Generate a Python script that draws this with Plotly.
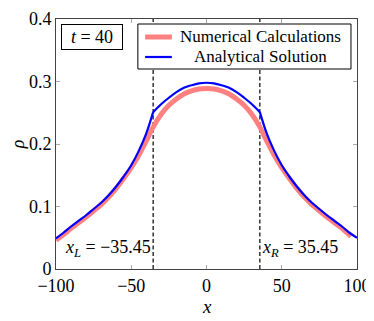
import plotly.graph_objects as go

# analytical solution
x_ana = [-100, -95, -90, -85, -80, -75, -70, -65, -60, -55, -50, -45, -40, -35.45,
         -30, -25, -20, -15, -10, -5, 0, 5, 10, 15, 20, 25, 30,
         35.45, 40, 45, 50, 55, 60, 65, 70, 75, 80, 85, 90, 95, 100]
rho_ana = [0.049, 0.058, 0.068, 0.077, 0.086, 0.096, 0.106, 0.118, 0.132, 0.148, 0.166, 0.189, 0.217, 0.251,
           0.264, 0.274, 0.283, 0.290, 0.294, 0.297, 0.298, 0.297, 0.294, 0.290, 0.283, 0.274, 0.264,
           0.251, 0.217, 0.189, 0.166, 0.148, 0.132, 0.118, 0.106, 0.096, 0.086, 0.077, 0.068, 0.058, 0.050]

# numerical calculations
x_num = [-100, -95, -90, -85, -80, -75, -70, -65, -60, -55, -50, -45, -40, -35, -30, -25, -20, -15, -10, -5, 0,
         5, 10, 15, 20, 25, 30, 35, 40, 45, 50, 55, 60, 65, 70, 75, 80, 85, 90, 96]
rho_num = [0.046, 0.055, 0.065, 0.074, 0.083, 0.093, 0.103, 0.115, 0.129, 0.145, 0.162, 0.182, 0.205, 0.229,
           0.248, 0.262, 0.272, 0.280, 0.285, 0.288, 0.289,
           0.288, 0.285, 0.280, 0.272, 0.262, 0.248, 0.229, 0.205, 0.182, 0.162, 0.145, 0.129, 0.115, 0.103,
           0.093, 0.083, 0.074, 0.065, 0.052]

x_L, x_R = -35.45, 35.45
t_val = 40

names = ['Numerical Calculations', 'Analytical Solution']
colors = ['rgb(255,128,128)', 'rgb(0,0,255)']
widths = [5, 2.2]

FONT = "Liberation Serif, serif"

fig = go.Figure()

# dashed interface lines
for xv in [x_L, x_R]:
    fig.add_trace(go.Scatter(x=[xv, xv], y=[0, 0.4], mode='lines',
                             line=dict(color='black', width=1.2, dash='4px,2.5px'),
                             showlegend=False, hoverinfo='skip'))

fig.add_trace(go.Scatter(x=x_num, y=rho_num, mode='lines', name=names[0], showlegend=False,
                         line=dict(color=colors[0], width=widths[0], shape='spline')))

# analytical solution: smooth pieces, with a kink at x_L and x_R
iL, iR = x_ana.index(x_L), x_ana.index(x_R)
for a, b in [(0, iL + 1), (iL, iR + 1), (iR, len(x_ana))]:
    fig.add_trace(go.Scatter(x=x_ana[a:b], y=rho_ana[a:b], mode='lines', name=names[1], showlegend=False,
                             line=dict(color=colors[1], width=widths[1], shape='spline')))

# legend box drawn by hand (pgfplots style: centred entries)
fig.add_shape(type='rect', xref='paper', yref='paper', x0=0.272, x1=0.980, y0=0.80, y1=0.98,
              line=dict(color='black', width=1), fillcolor='white', layer='above')
for i, (nm, c, w) in enumerate(zip(names, colors, widths)):
    yy = 0.928 - 0.08 * i
    fig.add_shape(type='line', xref='paper', yref='paper', x0=0.296, x1=0.385, y0=yy, y1=yy,
                  line=dict(color=c, width=w), layer='above')
    fig.add_annotation(x=0.679, y=yy, xref='paper', yref='paper', xanchor='center', yanchor='middle',
                       text=nm, showarrow=False, font=dict(family=FONT, size=17, color='black'))

# labels
fig.add_annotation(x=0.017, y=0.98, xref='paper', yref='paper', xanchor='left', yanchor='top',
                   text=f'<i>t</i> = {t_val}', showarrow=False, width=56, height=20,
                   font=dict(family=FONT, size=18, color='black'),
                   bordercolor='black', borderwidth=1, borderpad=2, bgcolor='white')
fig.add_annotation(x=x_L, y=0.012, xanchor='right', yanchor='bottom',
                   text=f'<i>x<sub>L</sub></i> = \u2212{abs(x_L):.2f}', showarrow=False,
                   font=dict(family=FONT, size=18, color='black'))
fig.add_annotation(x=x_R, y=0.012, xanchor='left', yanchor='bottom',
                   text=f'<i>x<sub>R</sub></i> = {x_R:.2f}', showarrow=False,
                   font=dict(family=FONT, size=18, color='black'))
fig.add_annotation(x=0.5, y=-0.148, xref='paper', yref='paper', xanchor='center', yanchor='middle',
                   text='<i>x</i>', showarrow=False, font=dict(family=FONT, size=19, color='black'))

# the page body adds an 8px offset, so the figure is 8px smaller and margins shifted
fig.update_layout(
    width=366, height=313,
    margin=dict(l=48, r=17, t=11, b=52),
    plot_bgcolor='white', paper_bgcolor='white',
    font=dict(family=FONT, size=17, color='black'),
    showlegend=False,
)
fig.update_xaxes(range=[-100, 100], tickvals=[-100, -50, 0, 50, 100],
                 ticktext=['\u2212100', '\u221250', '0', '50', '100'],
                 tickfont=dict(family=FONT, size=18, color='black'),
                 ticks='inside', ticklen=4, tickcolor='#aaa', mirror='allticks',
                 showline=True, linecolor='#444', linewidth=1, showgrid=False, zeroline=False,
                 automargin=False)
fig.update_yaxes(range=[0, 0.4], tickvals=[0, 0.1, 0.2, 0.3, 0.4],
                 ticktext=['0', '0.1', '0.2', '0.3', '0.4'],
                 tickfont=dict(family=FONT, size=18, color='black'),
                 ticks='inside', ticklen=4, tickcolor='#aaa', mirror='allticks',
                 showline=True, linecolor='#444', linewidth=1, showgrid=False, zeroline=False,
                 automargin=False,
                 title=dict(text='<i>\u03c1</i>', standoff=2, font=dict(family=FONT, size=18)))

fig.write_html("out.html")
